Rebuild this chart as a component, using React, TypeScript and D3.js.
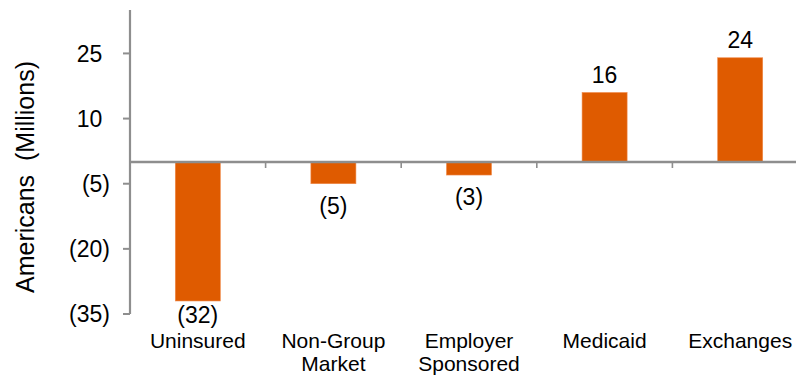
import React from "react";
import * as d3 from "d3";

// Change in coverage by source, millions of Americans
const categories: string[][] = [
  ["Uninsured"],
  ["Non-Group", "Market"],
  ["Employer", "Sponsored"],
  ["Medicaid"],
  ["Exchanges"],
];
const values: number[] = [-32, -5, -3, 16, 24];
const yTicks: number[] = [25, 10, -5, -20, -35];
const yDomain: [number, number] = [-35, 35];
const yTitle = "Americans  (Millions)";

const W = 796;
const H = 377;
const FONT = "'Liberation Sans', Arial, sans-serif";
const AXIS = "#8e8e8e";
const BAR = "#df5b00";

// Excel-style accounting format: negatives in parentheses
const fmt = (v: number) => (v < 0 ? `(${Math.abs(v)})` : `${v}`);

export default function App() {
  const left = 130;
  const step = 135.6;
  const x = d3
    .scaleBand<number>()
    .domain(d3.range(categories.length))
    .range([left, left + step * categories.length])
    .paddingInner(0)
    .paddingOuter(0);
  const y = d3.scaleLinear().domain(yDomain).range([314, 10]);
  const barW = x.bandwidth() * 0.332;
  const y0 = y(0);
  const tickFs = 23;
  const parenW = tickFs * 0.333;

  return (
    <svg
      width={W}
      height={H}
      style={{ position: "absolute", left: 0, top: 0, overflow: "hidden", background: "#fff" }}
      fontFamily={FONT}
    >
      {/* bars */}
      {values.map((v, i) => {
        const cx = (x(i) as number) + x.bandwidth() / 2;
        const top = Math.min(y(v), y0);
        const h = Math.abs(y(v) - y0);
        return (
          <rect key={`b${i}`} x={cx - barW / 2} y={top} width={barW} height={h} fill={BAR} stroke="#f08a4a" strokeWidth={0.6} />
        );
      })}

      {/* y axis */}
      <line x1={left} x2={left} y1={y(yDomain[1])} y2={y(yDomain[0])} stroke={AXIS} strokeWidth={2.2} />
      {yTicks.map((t) => (
        <g key={`t${t}`}>
          <line x1={left - 7} x2={left} y1={y(t)} y2={y(t)} stroke={AXIS} strokeWidth={2} />
          <text
            x={110 - (t >= 0 ? parenW : 0)}
            y={y(t) + 8.3}
            textAnchor="end"
            fontSize={tickFs}
            fill="#000"
          >
            {fmt(t)}
          </text>
        </g>
      ))}

      {/* zero line with category boundary ticks */}
      <line x1={left} x2={left + step * categories.length} y1={y0} y2={y0} stroke={AXIS} strokeWidth={2.6} />
      {d3.range(1, categories.length + 1).map((i) => {
        const bx = left + step * i;
        return <line key={`c${i}`} x1={bx} x2={bx} y1={y0} y2={y0 + 6} stroke={AXIS} strokeWidth={1.6} />;
      })}

      {/* value labels */}
      {values.map((v, i) => {
        const cx = (x(i) as number) + x.bandwidth() / 2;
        const ly = v >= 0 ? y(v) - 10 : Math.min(y(v) + 30, y(yDomain[0]) + 9);
        return (
          <text key={`v${i}`} x={cx} y={ly} textAnchor="middle" fontSize={tickFs} fill="#000">
            {fmt(v)}
          </text>
        );
      })}

      {/* category labels */}
      {categories.map((lines, i) => {
        const cx = (x(i) as number) + x.bandwidth() / 2;
        return (
          <text key={`l${i}`} x={cx} y={347.5} textAnchor="middle" fontSize={21} fill="#000">
            {lines.map((ln, j) => (
              <tspan key={j} x={cx} dy={j === 0 ? 0 : 23.3}>
                {ln}
              </tspan>
            ))}
          </text>
        );
      })}

      {/* y axis title */}
      <text
        transform={`translate(33.5, 177) rotate(-90)`}
        textAnchor="middle"
        fontSize={25}
        fill="#000"
        style={{ whiteSpace: "pre" }}
      >
        {yTitle}
      </text>
    </svg>
  );
}
